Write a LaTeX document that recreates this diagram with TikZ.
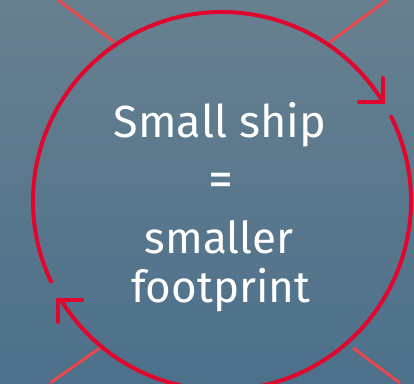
\documentclass[tikz,border=0pt]{standalone}
\usepackage{fontspec}
\setmainfont{Fira Sans}
\definecolor{bgtop}{HTML}{67808F}
\definecolor{bgbot}{HTML}{4D708B}
\definecolor{ringred}{HTML}{E0062E}
\definecolor{raysred}{HTML}{E8474C}
\tikzset{
  ring/.style={draw=ringred, line width=4pt, line cap=round},
  tipline/.style={draw=ringred, line width=4pt, line cap=round, line join=miter},
  ray/.style={draw=raysred, line width=3pt},
  label/.style={text=white, anchor=base, inner sep=0pt, font=\fontsize{44}{44}\selectfont}
}
\begin{document}
\begin{tikzpicture}[x=1pt,y=1pt]
\useasboundingbox (0,0) rectangle (414,383);
\shade[top color=bgtop, bottom color=bgbot] (0,0) rectangle (414,383);
% rays
\draw[ray] (58,383) -- (114,341);
\draw[ray] (330,341) -- (387,383);
\draw[ray] (100,35) -- (50,0);
\draw[ray] (353,35) -- (400,0);
% ring arcs
\coordinate (c) at (222,182);
\draw[ring] (c) ++(205.2:189) arc[start angle=205.2, end angle=32, radius=189];
\draw[ring] (c) ++(26.4:189) arc[start angle=26.4, end angle=-148.5, radius=189];
% arrow heads
\coordinate (t1) at (383,281);
\draw[tipline] (359,281) -- (t1) -- (383,305);
\coordinate (t2) at (58,83);
\draw[tipline] (82,83) -- (t2) -- (58,61);
% text
\node[label, font=\fontsize{45}{45}\selectfont] (l1) at (220,245) {Small ship};
\node[label, font=\fontsize{50}{50}\selectfont] (l2) at (221,186) {=};
\node[label] (l3) at (219,130) {smaller};
\node[label] (l4) at (221,81) {footprint};
\end{tikzpicture}
\end{document}
